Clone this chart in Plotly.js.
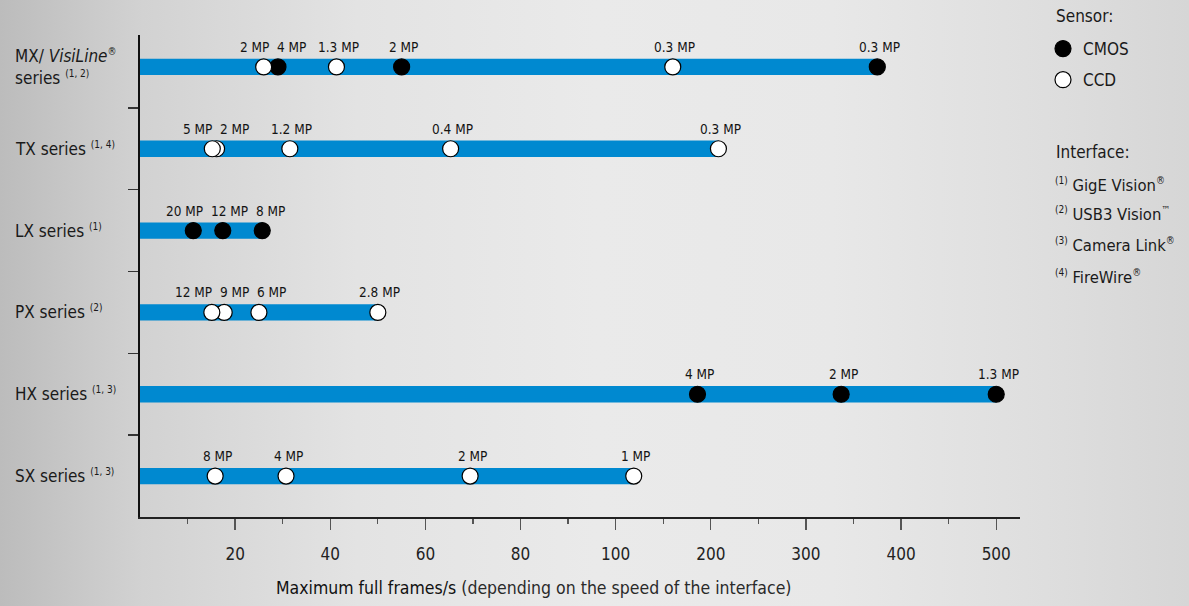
<!DOCTYPE html>
<html>
<head>
<meta charset="utf-8">
<script src="https://cdn.plot.ly/plotly-3.0.1.min.js"></script>
<style>
  html, body { margin: 0; padding: 0; }
  body {
    width: 1189px; height: 606px; overflow: hidden;
    background: linear-gradient(to right, #bcbcbc 0%, #d2d2d2 12%, #e3e3e3 30%, #eaeaea 50%, #e8e8e8 70%, #dedede 88%, #d6d6d6 100%);
  }
  #chart { width: 1189px; height: 606px; }
</style>
</head>
<body>
<div id="chart"></div>
<script>
// ---------- data ----------
const categories = ['MX', 'TX', 'LX', 'PX', 'HX', 'SX'];
const SUP = t => '<sup><span style="font-size:10px">' + t + '</span></sup>';
const categoryLabels = [
  'MX/ <i>VisiLine</i>' + SUP('®') + '<br>series ' + SUP('(1, 2)'),
  'TX series ' + SUP('(1, 4)'),
  'LX series ' + SUP('(1)'),
  'PX series ' + SUP('(2)'),
  'HX series ' + SUP('(1, 3)'),
  'SX series ' + SUP('(1, 3)')
];

// max full frames/s per camera model, resolution label and sensor type
const mxFps    = [26, 29, 41.3, 55, 160, 375];
const mxMP     = ['2 MP', '4 MP', '1.3 MP', '2 MP', '0.3 MP', '0.3 MP'];
const mxSensor = ['CCD', 'CMOS', 'CCD', 'CMOS', 'CCD', 'CMOS'];

const txFps    = [15.2, 16.1, 31.5, 65.3, 208];
const txMP     = ['5 MP', '2 MP', '1.2 MP', '0.4 MP', '0.3 MP'];
const txSensor = ['CCD', 'CCD', 'CCD', 'CCD', 'CCD'];

const lxFps    = [11.2, 17.4, 25.7];
const lxMP     = ['20 MP', '12 MP', '8 MP'];
const lxSensor = ['CMOS', 'CMOS', 'CMOS'];

const pxFps    = [15.1, 17.7, 25, 50];
const pxMP     = ['12 MP', '9 MP', '6 MP', '2.8 MP'];
const pxSensor = ['CCD', 'CCD', 'CCD', 'CCD'];

const hxFps    = [186, 337, 500];
const hxMP     = ['4 MP', '2 MP', '1.3 MP'];
const hxSensor = ['CMOS', 'CMOS', 'CMOS'];

const sxFps    = [15.8, 30.7, 69.4, 119];
const sxMP     = ['8 MP', '4 MP', '2 MP', '1 MP'];
const sxSensor = ['CCD', 'CCD', 'CCD', 'CCD'];

const tickValues = [20, 40, 60, 80, 100, 200, 300, 400, 500];
const minorTickValues = [10, 30, 50, 70, 90, 150, 250, 350, 450];
const interfaceLines = [
  SUP('(1)') + ' GigE Vision' + SUP('®'),
  SUP('(2)') + ' USB3 Vision' + SUP('™'),
  SUP('(3)') + ' Camera Link' + SUP('®'),
  SUP('(4)') + ' FireWire' + SUP('®')
];

// ---------- axis scale: linear to 100, compressed 5:1 above 100 ----------
function toAxis(v) { return v <= 100 ? v : 100 + (v - 100) / 5; }

const series = [
  {fps: mxFps, mp: mxMP, sensor: mxSensor},
  {fps: txFps, mp: txMP, sensor: txSensor},
  {fps: lxFps, mp: lxMP, sensor: lxSensor},
  {fps: pxFps, mp: pxMP, sensor: pxSensor},
  {fps: hxFps, mp: hxMP, sensor: hxSensor},
  {fps: sxFps, mp: sxMP, sensor: sxSensor}
];

const FONT = '"DejaVu Sans Condensed", "Liberation Sans Narrow", "Arial Narrow", sans-serif';
const X_RANGE = [0, 185];
const MARGIN = {l: 140, r: 169, t: 35, b: 89};
const PLOT_W = 1189 - MARGIN.l - MARGIN.r;
const PLOT_H = 606 - MARGIN.t - MARGIN.b;
const pxPerUnit = PLOT_W / (X_RANGE[1] - X_RANGE[0]);
const paperX = px => (px - MARGIN.l) / PLOT_W;
const paperY = py => (606 - MARGIN.b - py) / PLOT_H;

// bars
const barTrace = {
  type: 'bar', orientation: 'h',
  y: series.map((s, i) => i),
  x: series.map(s => toAxis(Math.max(...s.fps))),
  width: 0.2,
  marker: {color: '#0089d0', line: {width: 0}},
  showlegend: false, hoverinfo: 'skip'
};

function pointTrace(kind, fill) {
  const xs = [], ys = [], tx = [];
  series.forEach((s, i) => {
    // draw right-most first so left points sit on top
    const idx = s.fps.map((v, k) => k).sort((a, b) => s.fps[b] - s.fps[a]);
    idx.forEach(k => {
      if (s.sensor[k] === kind) { xs.push(toAxis(s.fps[k])); ys.push(i); tx.push(s.mp[k]); }
    });
  });
  return {
    type: 'scatter', mode: 'markers', name: kind,
    x: xs, y: ys, text: tx, hoverinfo: 'text',
    legendgroup: kind,
    marker: {size: 16, color: fill, line: {color: '#000', width: 1.2}}
  };
}
const cmosTrace = pointTrace('CMOS', '#000000');
const ccdTrace = pointTrace('CCD', '#ffffff');

// labels above points, spread apart when they would collide
const annotations = [];
const CHAR_W = 8, LABEL_GAP = 5;
series.forEach((s, i) => {
  const order = s.fps.map((v, k) => k).sort((a, b) => s.fps[a] - s.fps[b]);
  const px = order.map(k => toAxis(s.fps[k]) * pxPerUnit);
  const w = order.map(k => s.mp[k].length * CHAR_W);
  const shift = order.map(() => 0);
  for (let pass = 0; pass < 6; pass++) {
    for (let j = 0; j < order.length - 1; j++) {
      const need = (w[j] + w[j + 1]) / 2 + LABEL_GAP;
      const d = (px[j + 1] + shift[j + 1]) - (px[j] + shift[j]);
      if (d < need) { const h = (need - d) / 2; shift[j] -= h; shift[j + 1] += h; }
    }
  }
  order.forEach((k, j) => {
    annotations.push({
      xref: 'x', yref: 'y', x: toAxis(s.fps[k]), y: i,
      text: s.mp[k], showarrow: false,
      xanchor: 'center', yanchor: 'middle',
      xshift: shift[j] + 2, yshift: 20,
      font: {family: FONT, size: 13.5, color: '#141414'}
    });
  });
});

// category labels (left aligned)
categoryLabels.forEach((t, i) => {
  annotations.push({
    xref: 'paper', yref: 'y', x: paperX(13), y: i,
    text: t, showarrow: false, xanchor: 'left', yanchor: 'middle', align: 'left',
    yshift: 0,
    font: {family: FONT, size: 17, color: '#1a1a1a'}
  });
});

// x axis title
annotations.push({
  xref: 'paper', yref: 'paper', x: paperX(533), y: paperY(588),
  text: '<span style="color:#111">Maximum full frames/s</span> (depending on the speed of the interface)',
  showarrow: false, xanchor: 'center', yanchor: 'middle',
  font: {family: FONT, size: 17.5, color: '#2a2a2a'}
});

// sensor legend title and interface notes
annotations.push({
  xref: 'paper', yref: 'paper', x: paperX(1054), y: paperY(16),
  text: 'Sensor:', showarrow: false, xanchor: 'left', yanchor: 'middle',
  font: {family: FONT, size: 17, color: '#1a1a1a'}
});
annotations.push({
  xref: 'paper', yref: 'paper', x: paperX(1054), y: paperY(152),
  text: 'Interface:', showarrow: false, xanchor: 'left', yanchor: 'middle',
  font: {family: FONT, size: 17, color: '#1a1a1a'}
});
const ifaceY = [185, 214, 245, 277];
interfaceLines.forEach((t, i) => {
  annotations.push({
    xref: 'paper', yref: 'paper', x: paperX(1053), y: paperY(ifaceY[i]),
    text: t, showarrow: false, xanchor: 'left', yanchor: 'middle',
    font: {family: FONT, size: 16.5, color: '#1a1a1a'}
  });
});

const layout = {
  width: 1189, height: 606,
  margin: Object.assign({autoexpand: false}, MARGIN),
  paper_bgcolor: 'rgba(0,0,0,0)',
  plot_bgcolor: 'rgba(0,0,0,0)',
  font: {family: FONT, size: 17, color: '#1a1a1a'},
  showlegend: true,
  legend: {
    x: paperX(1043), xanchor: 'left',
    y: paperY(31), yanchor: 'top',
    bgcolor: 'rgba(0,0,0,0)',
    font: {family: FONT, size: 17, color: '#1a1a1a'},
    tracegroupgap: 6, traceorder: 'grouped'
  },
  xaxis: {
    range: X_RANGE, showgrid: false, zeroline: false,
    showline: true, linecolor: '#222', linewidth: 1.5,
    tickmode: 'array', tickvals: tickValues.map(toAxis), ticktext: tickValues.map(String),
    ticks: 'outside', ticklen: 11, tickwidth: 1.3, tickcolor: '#555',
    ticklabelstandoff: 10,
    tickfont: {family: FONT, size: 17, color: '#222'},
    minor: {tickmode: 'array', tickvals: minorTickValues.map(toAxis), ticks: 'outside', ticklen: 5, tickwidth: 1.3, tickcolor: '#555', showgrid: false},
    fixedrange: true
  },
  yaxis: {
    range: [5.5, -0.39], showgrid: false, zeroline: false,
    showline: true, linecolor: '#111', linewidth: 1.6,
    tickmode: 'array', tickvals: [0.5, 1.5, 2.5, 3.5, 4.5], ticktext: ['', '', '', '', ''],
    ticks: 'outside', ticklen: 10, tickwidth: 1.5, tickcolor: '#333',
    showticklabels: false, fixedrange: true
  },
  annotations: annotations
};

Plotly.newPlot('chart', [barTrace, cmosTrace, ccdTrace], layout, {displayModeBar: false, staticPlot: true});
</script>
</body>
</html>
